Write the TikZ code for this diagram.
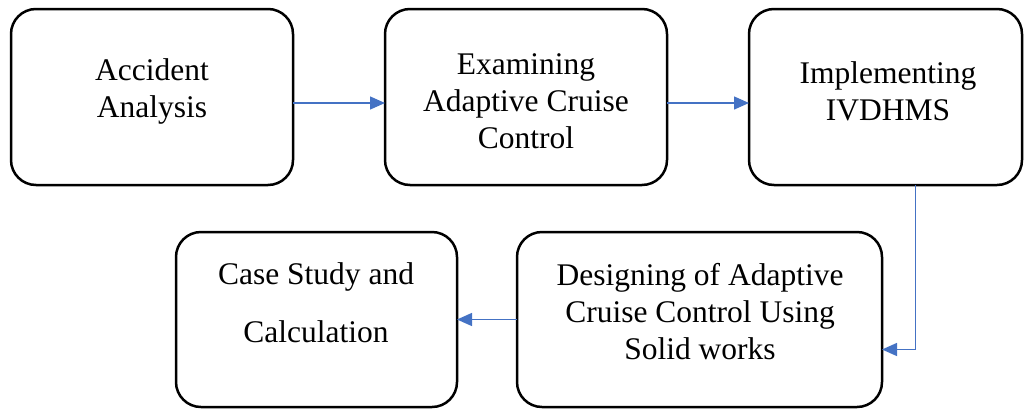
\documentclass[tikz,border=0pt]{standalone}
\usepackage{fontspec}
\setmainfont{Liberation Serif}
\usetikzlibrary{arrows.meta}
\definecolor{arrblue}{RGB}{68,114,196}
\tikzset{
  box/.style={draw=black, line width=2.5pt, rounded corners=25pt, rectangle, inner sep=0pt, outer sep=0pt},
  txt/.style={align=center, font=\fontsize{31.5}{37}\selectfont, inner sep=0pt},
  arr/.style={draw=arrblue, line width=1.4pt, -{Triangle[length=15pt,width=13pt]}}
}
\begin{document}
\begin{tikzpicture}[x=1pt,y=-1pt]
\useasboundingbox (0,0) rectangle (1024,410);
\node[box, minimum width=282pt, minimum height=176pt] (b1) at (152,97) {};
\node[box, minimum width=282pt, minimum height=176pt] (b2) at (526,97) {};
\node[box, minimum width=273pt, minimum height=176pt] (b3) at (885.5,97) {};
\node[box, minimum width=281pt, minimum height=175pt] (b4) at (316.5,319.5) {};
\node[box, minimum width=365pt, minimum height=175pt] (b5) at (699.5,319.5) {};
\node[txt] (t1) at (152,91) {Accident\\Analysis};
\node[txt] (t2) at (526,101) {Examining\\Adaptive Cruise\\Control};
\node[txt] (t3) at (888,91) {Implementing\\IVDHMS};
\node[txt, font=\fontsize{31.5}{58}\selectfont] (t4) at (316,303) {Case Study and\\Calculation};
\node[txt] (t5) at (700,312) {Designing of Adaptive\\Cruise Control Using\\Solid works};
\draw[arr] ([yshift=-6pt]b1.east) -- ([yshift=-6pt]b2.west);
\draw[arr] ([yshift=-6pt]b2.east) -- ([yshift=-6pt]b3.west);
\draw[arr] ([xshift=30pt]b3.south) |- ([yshift=-30pt]b5.east);
\draw[arr] (b5.west) -- (b4.east);
\end{tikzpicture}
\end{document}
